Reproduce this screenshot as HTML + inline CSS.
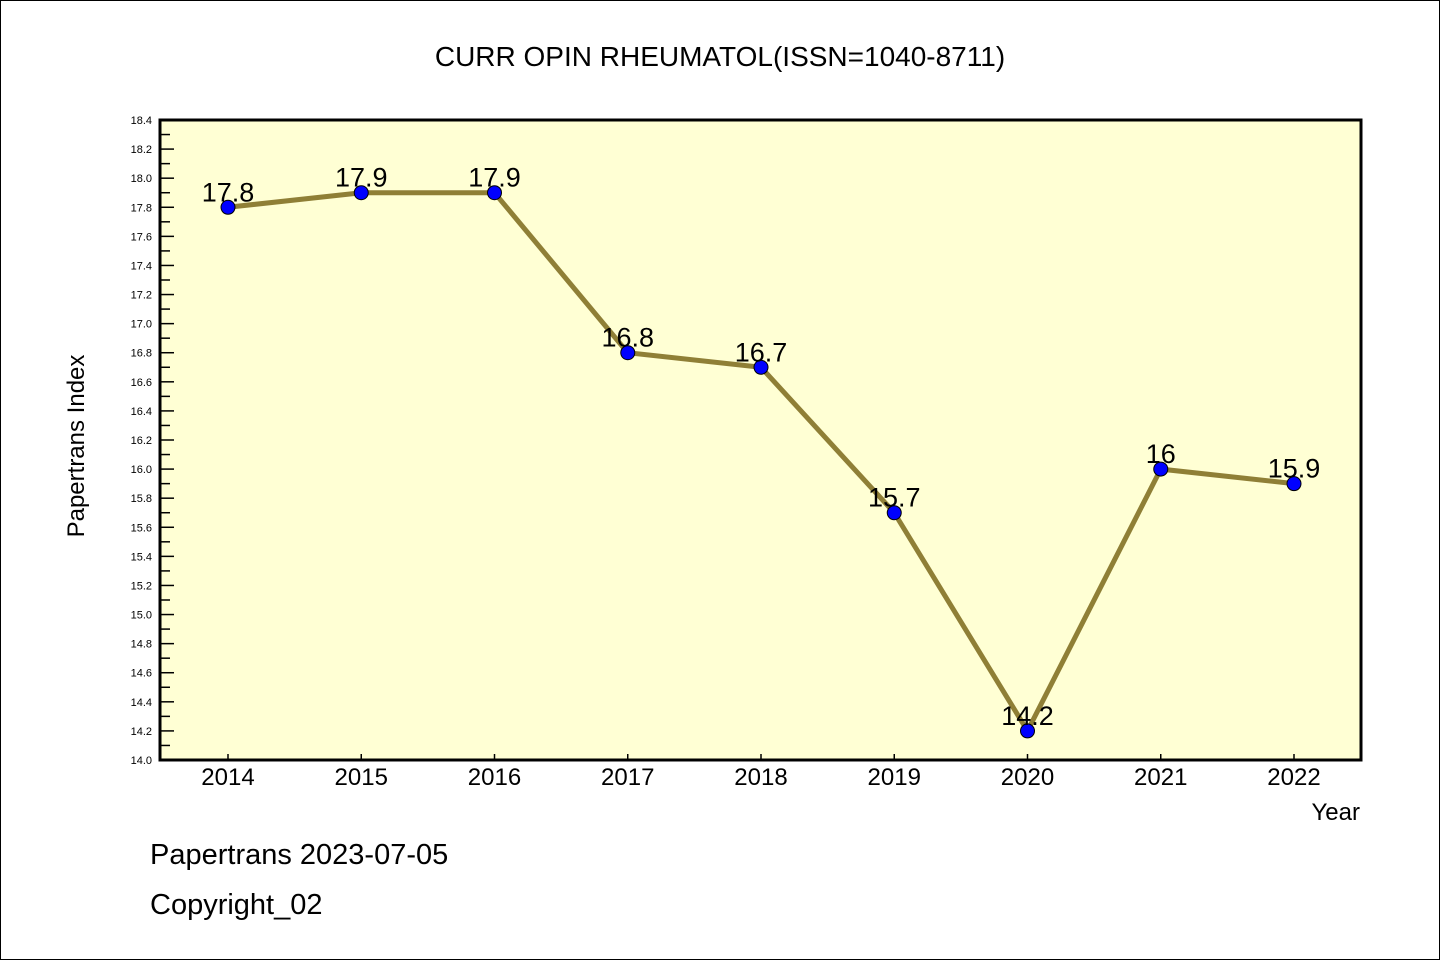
<!DOCTYPE html>
<html><head><meta charset="utf-8"><style>
html,body{margin:0;padding:0;background:#fff}
svg{display:block}
text{font-family:"Liberation Sans","WenQuanYi Zen Hei",sans-serif}
</style></head><body>
<svg id="chart" width="1440" height="960" viewBox="0 0 1440 960" xmlns="http://www.w3.org/2000/svg">
<rect x="0.5" y="0.5" width="1439" height="959" fill="#fff" stroke="#000" stroke-width="1"/>
<text x="720" y="66" font-size="28" text-anchor="middle" font-family="WenQuanYi Zen Hei, Liberation Mono, monospace">CURR OPIN RHEUMATOL(ISSN=1040-8711)</text>
<rect x="160" y="120" width="1201" height="640" fill="#ffffd4"/>
<g id="yaxis"></g>
<g id="xaxis"></g>
<g id="series"></g>
<rect x="160" y="120" width="1201" height="640" fill="none" stroke="#000" stroke-width="3"/>
<text transform="translate(84,446) rotate(-90)" font-size="24" text-anchor="middle" font-family="WenQuanYi Zen Hei, Liberation Mono, monospace">Papertrans Index</text>
<text x="1360" y="820" font-size="24" text-anchor="end" font-family="WenQuanYi Zen Hei, Liberation Mono, monospace">Year</text>
<text x="150" y="864" font-size="29" font-family="WenQuanYi Zen Hei, Liberation Mono, monospace">Papertrans 2023-07-05</text>
<text x="150" y="914" font-size="29" font-family="WenQuanYi Zen Hei, Liberation Mono, monospace">Copyright_02</text>
</svg>
<script>
const years = ["2014","2015","2016","2017","2018","2019","2020","2021","2022"];
const values = [17.8,17.9,17.9,16.8,16.7,15.7,14.2,16.0,15.9];
const valueLabels = ["17.8","17.9","17.9","16.8","16.7","15.7","14.2","16","15.9"];
const yTicks = [14.0,14.2,14.4,14.6,14.8,15.0,15.2,15.4,15.6,15.8,16.0,16.2,16.4,16.6,16.8,17.0,17.2,17.4,17.6,17.8,18.0,18.2,18.4];
const yMin = 14.0, yMax = 18.4;
const NS = "http://www.w3.org/2000/svg";
function y(v){return 760 - (v - yMin)/(yMax - yMin)*640;}
function x(i){return 228 + i*(1294-228)/(years.length-1);}
function mk(tag, attrs, parent){const e=document.createElementNS(NS,tag);for(const k in attrs)e.setAttribute(k,attrs[k]);parent.appendChild(e);return e;}
const ya=document.getElementById('yaxis'), xa=document.getElementById('xaxis'), sg=document.getElementById('series');
yTicks.forEach((t,i)=>{
  const yy=y(t);
  const l=mk('line',{x1:160,x2:174,y1:yy,y2:yy,stroke:'#000','stroke-width':1.5},ya);
  
  
  const tx=mk('text',{x:152,y:yy+4,'font-size':11,'text-anchor':'end'},ya);
  
  
  tx.textContent=t.toFixed(1);
  if(i<yTicks.length-1){
    const ym=y(t+0.1);
    const m=mk('line',{x1:160,x2:170,y1:ym,y2:ym,stroke:'#000','stroke-width':1.5},ya);
    
    
  }
});
years.forEach((yr,i)=>{
  const xx=x(i);
  const l=mk('line',{x1:xx,x2:xx,y1:760,y2:754,stroke:'#000','stroke-width':1.5},xa);
  
  
  const tx=mk('text',{x:xx,y:785,'font-size':24,'text-anchor':'middle'},xa);
  
  
  tx.textContent=yr;
});
const pl=mk('polyline',{points:values.map((v,i)=>x(i)+','+y(v)).join(' '),fill:'none',stroke:'#8f7f36','stroke-width':5},sg);


values.forEach((v,i)=>{
  const c=mk('circle',{cx:x(i),cy:y(v),r:7,fill:'#0000ff',stroke:'#000','stroke-width':1},sg);
  
  
  const t=mk('text',{x:x(i),y:y(v)-6,'font-size':27,'text-anchor':'middle'},sg);
  
  
  t.textContent=valueLabels[i];
});
</script>
</body></html>
